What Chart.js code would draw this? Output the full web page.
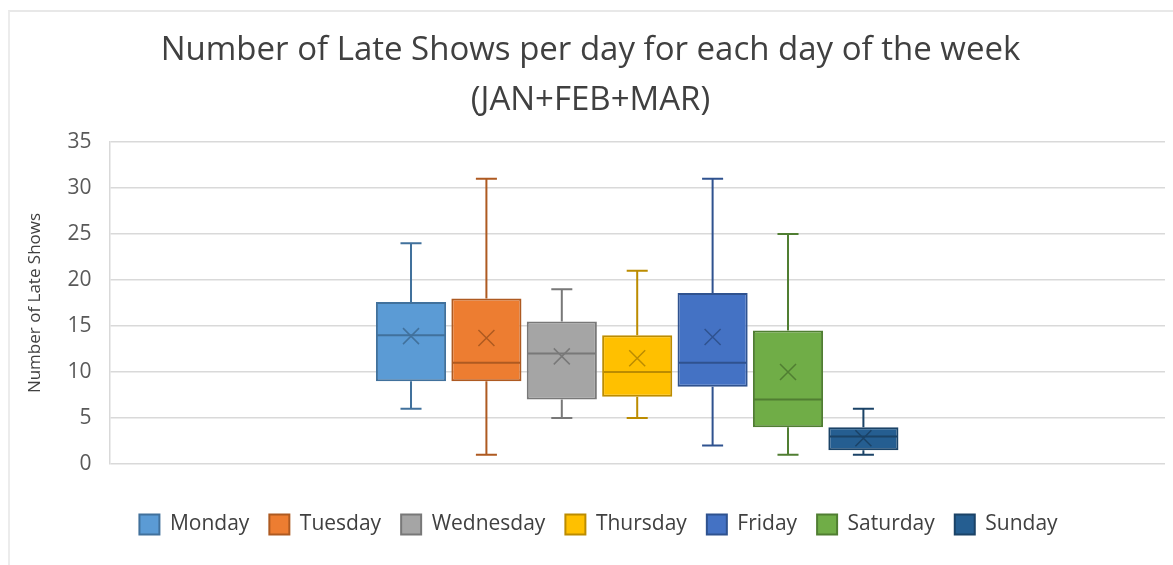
<!DOCTYPE html>
<html>
<head>
<meta charset="utf-8">
<script src="https://cdn.jsdelivr.net/npm/chart.js@4.4.1/dist/chart.umd.min.js"></script>
<style>
  html, body { margin: 0; padding: 0; background: #ffffff; }
  #wrap { position: relative; width: 1173px; height: 565px; }
  #frame { position: absolute; left: 8px; top: 10px; right: 0; bottom: 0; border-top: 2px solid #e8e8e8; border-left: 2px solid #ececec; pointer-events: none; }
  canvas { position: absolute; left: 0; top: 0; }
</style>
</head>
<body>
<div id="wrap">
  <canvas id="c" width="1173" height="565"></canvas>
  <div id="frame"></div>
</div>
<script>
// ---- Data ----
const days     = ['Monday', 'Tuesday', 'Wednesday', 'Thursday', 'Friday', 'Saturday', 'Sunday'];
const mins     = [6, 1, 5, 5, 2, 1, 1];
const q1s      = [9, 9, 7, 7.3, 8.4, 4, 1.5];
const medians  = [14, 11, 12, 10, 11, 7, 3];
const q3s      = [17.6, 18, 15.5, 14, 18.6, 14.5, 4];
const maxs     = [24, 31, 19, 21, 31, 25, 6];
const means    = [13.9, 13.7, 11.7, 11.5, 13.8, 10, 2.8];
const yTicks   = [0, 5, 10, 15, 20, 25, 30, 35];

const fills    = ['#5B9BD5', '#ED7D31', '#A5A5A5', '#FFC000', '#4472C4', '#70AD47', '#255E91'];
const strokes  = ['#41719C', '#AE5A21', '#787878', '#BC8C00', '#2F528F', '#507E32', '#1B4367'];

const FONT = "'Open Sans', 'DejaVu Sans', sans-serif";

const datasets = days.map((d, i) => ({
  label: d,
  data: [[q1s[i], q3s[i]]],
  backgroundColor: fills[i],
  borderColor: strokes[i],
  borderWidth: 2,
  borderSkipped: false,
  barPercentage: 0.93,
  categoryPercentage: 0.5
}));

const boxPlugin = {
  id: 'boxWhiskers',
  afterLayout(chart) {
    // nudge the legend a little to the right, as in the reference
    if (chart.legend) { chart.legend.left += 8; chart.legend.right += 8; }
  },
  afterDatasetsDraw(chart) {
    const ctx = chart.ctx;
    const y = chart.scales.y;
    chart.data.datasets.forEach((ds, i) => {
      const meta = chart.getDatasetMeta(i);
      if (meta.hidden) return;
      const bar = meta.data[0];
      const cx = bar.x;
      const w = bar.width;
      const half = w / 2;
      const cap = w * 0.15;
      const yMin = y.getPixelForValue(mins[i]);
      const yQ1 = y.getPixelForValue(q1s[i]);
      const yMed = y.getPixelForValue(medians[i]);
      const yQ3 = y.getPixelForValue(q3s[i]);
      const yMax = y.getPixelForValue(maxs[i]);
      const yMean = y.getPixelForValue(means[i]);
      ctx.save();
      ctx.strokeStyle = strokes[i];
      ctx.lineWidth = 2;
      ctx.beginPath();
      ctx.moveTo(cx, yQ3); ctx.lineTo(cx, yMax);
      ctx.moveTo(cx - cap, yMax); ctx.lineTo(cx + cap, yMax);
      ctx.moveTo(cx, yQ1); ctx.lineTo(cx, yMin);
      ctx.moveTo(cx - cap, yMin); ctx.lineTo(cx + cap, yMin);
      ctx.moveTo(cx - half + 1, yMed); ctx.lineTo(cx + half - 1, yMed);
      ctx.stroke();
      const m = 8;
      ctx.lineWidth = 1.5;
      ctx.beginPath();
      ctx.moveTo(cx - m, yMean - m); ctx.lineTo(cx + m, yMean + m);
      ctx.moveTo(cx + m, yMean - m); ctx.lineTo(cx - m, yMean + m);
      ctx.stroke();
      ctx.restore();
    });
  }
};

new Chart(document.getElementById('c'), {
  type: 'bar',
  data: { labels: [''], datasets },
  plugins: [boxPlugin],
  options: {
    responsive: false,
    animation: false,
    layout: { padding: { left: 16, right: 8, top: 0, bottom: 20 } },
    plugins: {
      title: {
        display: true,
        text: ['Number of Late Shows per day for each day of the week', '(JAN+FEB+MAR)'],
        color: '#404040',
        font: { family: FONT, size: 33, weight: 'normal', lineHeight: 1.5 },
        padding: { top: 26, bottom: 17 }
      },
      legend: {
        position: 'bottom',
        labels: {
          color: '#404040',
          font: { family: FONT, size: 21 },
          boxWidth: 20,
          boxHeight: 20,
          padding: 20
        }
      },
      tooltip: { enabled: false }
    },
    scales: {
      x: {
        ticks: { display: false },
        grid: { display: false, drawTicks: false },
        border: { display: false },
        afterFit(axis) { axis.height = 30; }
      },
      y: {
        min: 0,
        max: 35,
        afterBuildTicks(axis) { axis.ticks = yTicks.map(v => ({ value: v })); },
        ticks: { color: '#595959', font: { family: FONT, size: 21 }, padding: 18 },
        grid: { color: '#d9d9d9', lineWidth: 1.5, drawTicks: false },
        border: { display: true, color: '#d9d9d9', width: 1.5 },
        title: {
          display: true,
          text: 'Number of Late Shows',
          color: '#404040',
          font: { family: FONT, size: 17 },
          padding: { top: 9, bottom: 4 }
        }
      }
    }
  }
});
</script>
</body>
</html>
